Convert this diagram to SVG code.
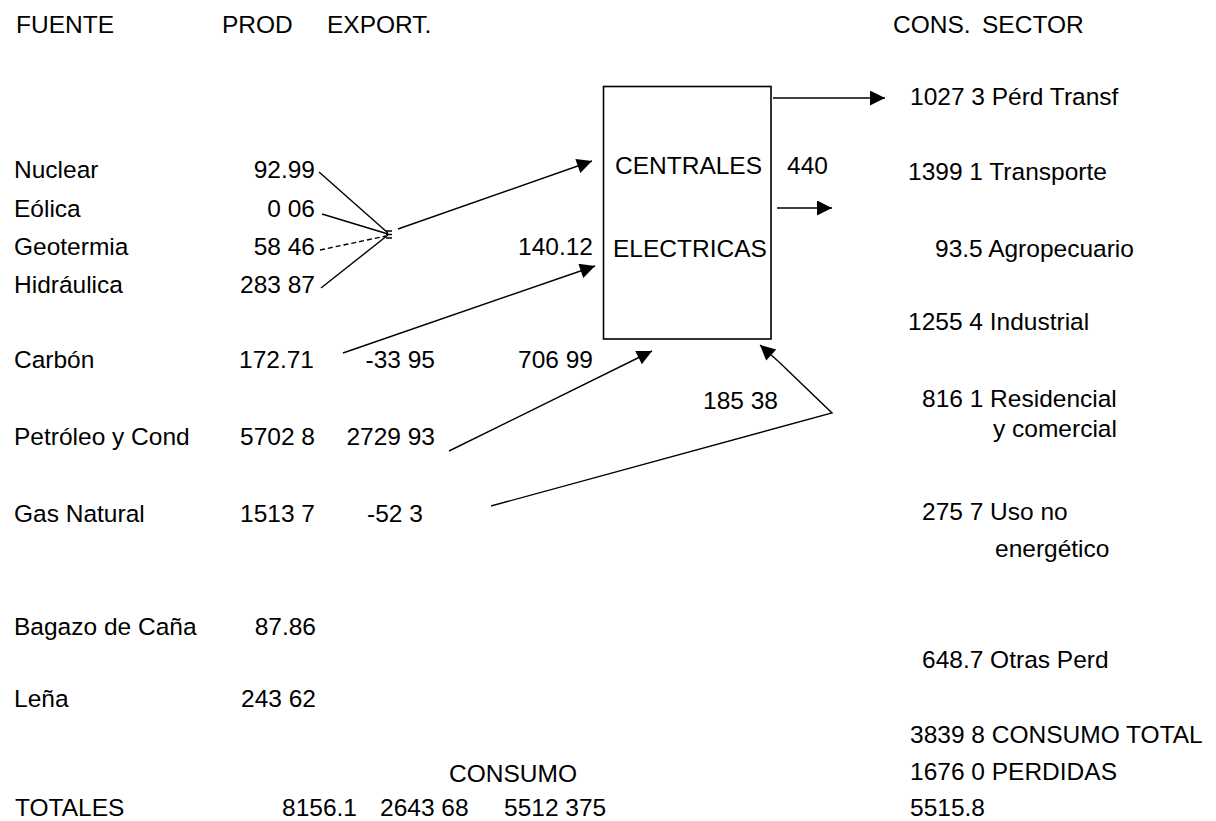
<svg xmlns="http://www.w3.org/2000/svg" width="1216" height="821" viewBox="0 0 1216 821">
<defs>
<marker id="ah" viewBox="0 0 10 10" refX="10" refY="5" markerWidth="17" markerHeight="15" markerUnits="userSpaceOnUse" orient="auto"><path d="M0,0 L10,5 L0,10 z" fill="#000"/></marker>
<style>
text{font-family:"Liberation Sans",Arial,sans-serif;font-size:24.5px;fill:#000}
.r{text-anchor:end}
.ln{fill:none;stroke:#000;stroke-width:1.4}
.d{stroke-dasharray:5 3}
</style>
</defs>
<rect width="1216" height="821" fill="#fff"/>
<g id="headers">
<text x="16" y="33">FUENTE</text>
<text x="222" y="33">PROD</text>
<text x="327" y="33">EXPORT.</text>
<text x="893" y="33">CONS.</text>
<text x="982" y="33">SECTOR</text>
</g>
<g id="fuentes">
<text x="14" y="178">Nuclear</text><text class="r" x="315" y="178">92.99</text>
<text x="14" y="217">Eólica</text><text class="r" x="315" y="217">0 06</text>
<text x="14" y="255">Geotermia</text><text class="r" x="315" y="255">58 46</text>
<text x="14" y="293">Hidráulica</text><text class="r" x="315" y="293">283 87</text>
<text x="14" y="368">Carbón</text><text class="r" x="314" y="368">172.71</text><text class="r" x="435" y="368">-33 95</text><text class="r" x="593" y="368">706 99</text>
<text x="14" y="445">Petróleo y Cond</text><text class="r" x="315" y="445">5702 8</text><text class="r" x="435" y="445">2729 93</text>
<text x="14" y="522">Gas Natural</text><text class="r" x="315" y="522">1513 7</text><text x="367" y="522">-52 3</text>
<text x="14" y="635">Bagazo de Caña</text><text class="r" x="316" y="635">87.86</text>
<text x="14" y="707">Leña</text><text class="r" x="316" y="707">243 62</text>
<text x="449" y="782">CONSUMO</text>
<text x="15" y="816">TOTALES</text><text x="282" y="816">8156.1</text><text x="380" y="816">2643 68</text><text x="504" y="816">5512 375</text>
</g>
<g id="centrales">
<rect x="603.5" y="86.5" width="167.5" height="252.5" fill="none" stroke="#000" stroke-width="1.6"/>
<text x="615" y="174">CENTRALES</text>
<text x="613" y="257">ELECTRICAS</text>
<text x="787" y="174">440</text>
<text class="r" x="593" y="255">140.12</text>
<text x="703" y="409">185 38</text>
</g>
<g id="sectores">
<text x="910" y="105">1027 3 Pérd  Transf</text>
<text x="908" y="180">1399 1 Transporte</text>
<text x="935" y="257">93.5 Agropecuario</text>
<text x="908" y="330">1255 4 Industrial</text>
<text x="922" y="407">816 1 Residencial</text>
<text x="993" y="437">y comercial</text>
<text x="922" y="520">275 7 Uso no</text>
<text x="995" y="557">energético</text>
<text x="922" y="668">648.7 Otras Perd</text>
<text x="910" y="743">3839 8 CONSUMO TOTAL</text>
<text x="910" y="780">1676 0 PERDIDAS</text>
<text x="910" y="816">5515.8</text>
</g>
<g id="connectors">
<line class="ln" x1="319" y1="172" x2="388" y2="233"/>
<line class="ln" x1="322" y1="214" x2="388" y2="234"/>
<line class="ln d" x1="320" y1="250" x2="386" y2="236"/>
<line class="ln" x1="321" y1="288" x2="388" y2="235"/>
<path class="ln" d="M386,231 h6 M386,234.5 h6 M386,238 h6"/>
<line class="ln" x1="398" y1="229" x2="592" y2="161" marker-end="url(#ah)"/>
<line class="ln" x1="343" y1="353" x2="595" y2="266" marker-end="url(#ah)"/>
<line class="ln" x1="449" y1="451" x2="652" y2="351" marker-end="url(#ah)"/>
<polyline class="ln" points="491,506 832,413 779,362"/>
<line class="ln" x1="779" y1="362" x2="760" y2="345" marker-end="url(#ah)"/>
<line class="ln" x1="773" y1="98" x2="885" y2="98" marker-end="url(#ah)"/>
<line class="ln" x1="777" y1="208" x2="832" y2="208" marker-end="url(#ah)"/>
</g>
</svg>
